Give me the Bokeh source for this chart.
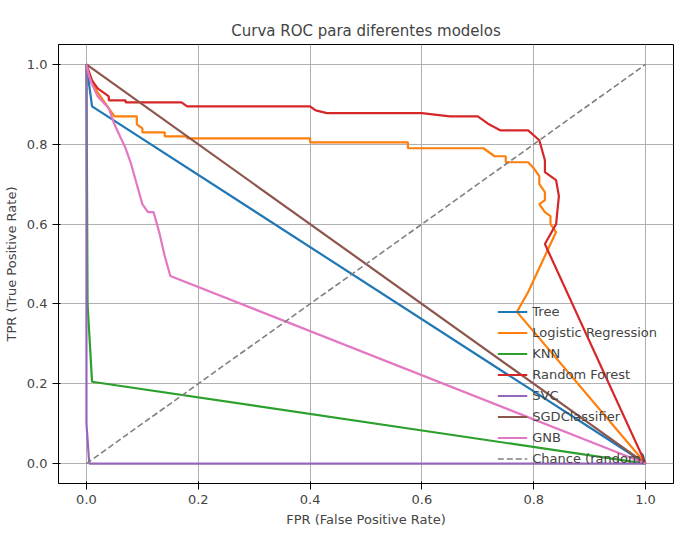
from bokeh.plotting import figure
from bokeh.models import Range1d, Legend, LegendItem, FixedTicker
from bokeh.embed import file_html
from bokeh.resources import INLINE

tree_x = [0, 0.01, 1]; tree_y = [1, 0.895, 0]
lr_x = [0,0.005,0.02,0.03,0.04,0.05,0.09,0.09,0.1,0.1,0.14,0.14,0.18,0.18,0.4,0.4,0.575,0.575,0.71,0.72,0.73,0.75,0.75,0.79,0.8,0.81,0.81,0.82,0.82,0.81,0.82,0.83,0.83,0.84,0.83,0.81,0.79,0.77,1]
lr_y = [1,0.97,0.93,0.91,0.89,0.87,0.87,0.85,0.84,0.83,0.83,0.82,0.82,0.815,0.815,0.805,0.805,0.79,0.79,0.78,0.77,0.77,0.755,0.755,0.74,0.72,0.7,0.68,0.66,0.65,0.63,0.62,0.6,0.58,0.55,0.49,0.43,0.38,0]
knn_x = [0, 0.002, 0.01, 1]; knn_y = [1, 0.4, 0.205, 0]
rf_x = [0,0.01,0.02,0.03,0.04,0.04,0.07,0.07,0.17,0.18,0.4,0.41,0.43,0.6,0.65,0.7,0.72,0.74,0.79,0.81,0.82,0.82,0.84,0.845,0.84,0.82,1]
rf_y = [1,0.96,0.94,0.93,0.92,0.91,0.91,0.905,0.905,0.895,0.895,0.885,0.878,0.878,0.87,0.87,0.85,0.835,0.835,0.81,0.76,0.73,0.71,0.67,0.6,0.55,0]
svc_x = [0, 0, 0.005, 1]; svc_y = [1, 0.1, 0, 0]
sgd_x = [0, 1]; sgd_y = [1, 0]
gnb_x = [0,0.005,0.01,0.02,0.03,0.04,0.05,0.06,0.07,0.08,0.09,0.1,0.11,0.12,0.13,0.14,0.15,1]
gnb_y = [1,0.97,0.95,0.92,0.905,0.89,0.85,0.82,0.79,0.75,0.7,0.65,0.63,0.63,0.58,0.52,0.47,0]
ch_x = [0, 1]; ch_y = [0, 1]

p = figure(width=675, height=529, output_backend="svg", toolbar_location=None,
           title="Curva ROC para diferentes modelos",
           x_range=Range1d(-0.05, 1.05), y_range=Range1d(-0.05, 1.05),
           min_border_left=54, min_border_right=2, min_border_top=44, min_border_bottom=37)
p.title.align = "center"; p.title.text_font_size = "15px"; p.title.text_font_style = "normal"
p.title.text_font = "DejaVu Sans"
p.outline_line_color = "black"
for ax in (p.xaxis[0], p.yaxis[0]):
    ax.ticker = FixedTicker(ticks=[0, 0.2, 0.4, 0.6, 0.8, 1.0])
    ax.minor_tick_line_color = None
    ax.major_label_text_font = "DejaVu Sans"; ax.major_label_text_font_size = "13px"
    ax.axis_label_text_font = "DejaVu Sans"; ax.axis_label_text_font_size = "13px"
    ax.axis_label_text_font_style = "normal"
p.xaxis.axis_label = "FPR (False Positive Rate)"
p.yaxis.axis_label = "TPR (True Positive Rate)"
p.xaxis.major_label_overrides = {0: "0.0", 1: "1.0"}
p.yaxis.major_label_overrides = {0: "0.0", 1: "1.0"}
p.grid.grid_line_color = "#b0b0b0"; p.grid.grid_line_alpha = 1.0
p.grid.ticker = FixedTicker(ticks=[0, 0.2, 0.4, 0.6, 0.8, 1.0])

series = [("Tree", tree_x, tree_y, "#1f77b4"), ("Logistic Regression", lr_x, lr_y, "#ff7f0e"),
          ("KNN", knn_x, knn_y, "#2ca02c"), ("Random Forest", rf_x, rf_y, "#d62728"),
          ("SVC", svc_x, svc_y, "#9467bd"), ("SGDClassifier", sgd_x, sgd_y, "#8c564b"),
          ("GNB", gnb_x, gnb_y, "#e377c2")]
items = []
for name, x, y, c in series:
    r = p.line(x, y, line_color=c, line_width=2.2)
    items.append(LegendItem(label=name, renderers=[r]))
r = p.line(ch_x, ch_y, line_color="gray", line_width=1.6, line_dash="6 3")
items.append(LegendItem(label="Chance (random)", renderers=[r]))
leg = Legend(items=items, location="bottom_right", background_fill_alpha=0,
             border_line_alpha=0, label_text_font="DejaVu Sans", label_text_font_size="13px",
             spacing=4, label_height=17, glyph_height=17, glyph_width=30, margin=6)
p.add_layout(leg)
open("out.html", "w").write(file_html(p, INLINE))
